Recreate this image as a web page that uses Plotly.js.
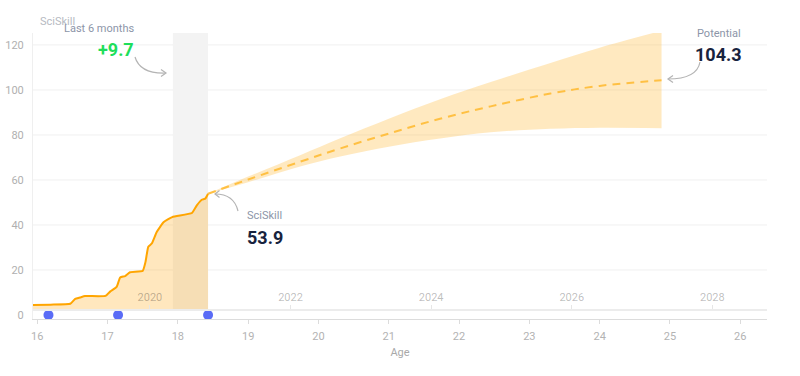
<!DOCTYPE html>
<html>
<head>
<meta charset="utf-8">
<script src="https://cdn.plot.ly/plotly-3.0.1.min.js"></script>
<style>html,body{margin:0;padding:0;background:#fff}#chart{width:800px;height:376px}</style>
</head>
<body>
<div id="chart"></div>
<script>
// ---- data ----
const histAge = [15.94, 16.19, 16.47, 16.54, 16.61, 16.68, 16.97, 17.04, 17.13, 17.18, 17.25, 17.32, 17.50, 17.54, 17.58, 17.63, 17.70, 17.80, 17.92, 18.20, 18.27, 18.34, 18.39, 18.43];
const histVal = [4.4, 4.6, 5.0, 7.2, 7.8, 8.4, 8.5, 10.5, 12.5, 16.7, 17.3, 19.0, 19.6, 23.6, 30.3, 31.8, 36.9, 41.3, 43.5, 45.3, 48.7, 51.2, 51.7, 53.9];

const projAge  = [18.43, 19.0, 19.74, 20.31, 21.0, 21.73, 22.45, 23.3, 24.0, 24.88];
const projMid  = [53.9, 60.2, 68.1, 74.0, 80.6, 87.2, 92.7, 98.4, 101.8, 104.3];
const projHigh = [53.9, 61.5, 71.0, 78.5, 87.2, 95.9, 103.5, 112.0, 118.8, 126.3];
const projLow  = [53.9, 59.0, 66.0, 70.4, 74.8, 78.4, 81.2, 82.7, 83.2, 83.0];

const dotAge = [16.16, 17.15, 18.43];
const dotVal = [0, 0, 0];

const lastSixMonths = [17.93, 18.43];
const gridVals = [20, 40, 60, 80, 100, 120];
const gainLabel = "+9.7";
const currentLabel = "SciSkill";
const potentialLabel = "Potential";
const periodLabel = "Last 6 months";
const yTitle = "SciSkill";
const xTitle = "Age";

// ---- settings ----
const baseline = 2.7;          // where the year axis line sits
const yearOffset = 2002.397;   // calendar year = age + offset
const ageRange = [15.94, 26.38];
const yRange = [-1.78, 125.3];

const FONT = 'Roboto, sans-serif';
const L = 33, R = 767, T = 33, B = 319;
const px = x => (x - L) / (R - L);
const py = y => (B - y) / (B - T);

const ORANGE = '#ffa500';

const traces = [
  { x: [histAge[0], histAge[histAge.length - 1]], y: [baseline, baseline], mode: 'lines',
    line: { width: 0, color: 'rgba(0,0,0,0)' }, hoverinfo: 'skip', showlegend: false },
  { x: histAge, y: histVal, mode: 'lines', fill: 'tonexty', fillcolor: 'rgba(255,176,40,0.3)',
    line: { color: ORANGE, width: 2, shape: 'spline', smoothing: 0.4 }, hoverinfo: 'skip', showlegend: false },
  { x: projAge, y: projLow, mode: 'lines', line: { width: 0, color: 'rgba(0,0,0,0)', shape: 'spline' },
    hoverinfo: 'skip', showlegend: false },
  { x: projAge, y: projHigh, mode: 'lines', fill: 'tonexty', fillcolor: 'rgba(255,186,60,0.32)',
    line: { width: 0, color: 'rgba(0,0,0,0)', shape: 'spline' }, hoverinfo: 'skip', showlegend: false },
  { x: projAge, y: projMid, mode: 'lines',
    line: { color: '#ffc043', width: 2, dash: '8px,6px', shape: 'spline' }, hoverinfo: 'skip', showlegend: false },
  { x: dotAge, y: dotVal, mode: 'markers', cliponaxis: false,
    marker: { color: '#5a6cf6', size: 10 }, hoverinfo: 'skip', showlegend: false },
  { x: ageRange.map(a => a + yearOffset), y: [baseline, baseline], xaxis: 'x2', mode: 'markers',
    marker: { opacity: 0 }, hoverinfo: 'skip', showlegend: false }
];

function curve(p0, c, p1) {
  return `M ${px(p0[0])},${py(p0[1])} Q ${px(c[0])},${py(c[1])} ${px(p1[0])},${py(p1[1])}`;
}
function poly(pts) {
  return 'M ' + pts.map(p => `${px(p[0])},${py(p[1])}`).join(' L ');
}
const arrowLine = { color: '#b4b4b4', width: 1.2 };
const shapes = [
  { type: 'rect', xref: 'x', yref: 'y', x0: lastSixMonths[0], x1: lastSixMonths[1], y0: baseline, y1: yRange[1],
    fillcolor: '#f3f3f3', line: { width: 0 }, layer: 'below' },
  ...gridVals.map(v => ({ type: 'line', xref: 'paper', yref: 'y', x0: 0, x1: 1, y0: v, y1: v,
    line: { color: '#f0f0f0', width: 1 }, layer: 'below' })),
  { type: 'path', xref: 'paper', yref: 'paper', path: curve([135, 57], [140, 74], [166, 73]), line: arrowLine },
  { type: 'path', xref: 'paper', yref: 'paper', path: poly([[161, 69.5], [166, 73], [161, 76.5]]), line: arrowLine },
  { type: 'path', xref: 'paper', yref: 'paper', path: curve([700, 62], [697, 79], [668, 79]), line: arrowLine },
  { type: 'path', xref: 'paper', yref: 'paper', path: poly([[673, 75.5], [668, 79], [673, 82.5]]), line: arrowLine },
  { type: 'path', xref: 'paper', yref: 'paper', path: curve([238, 211], [234, 194], [215, 194]), line: arrowLine },
  { type: 'path', xref: 'paper', yref: 'paper', path: poly([[219.5, 190.5], [215, 194], [219.5, 197.5]]), line: arrowLine }
];

function ann(text, x, y, xanchor, size, color, bold) {
  return { text: bold ? '<b>' + text + '</b>' : text, xref: 'paper', yref: 'paper', x: px(x), y: py(y),
    xanchor: xanchor, yanchor: 'middle', showarrow: false, borderpad: 0,
    font: { family: FONT, size: size, color: color } };
}
const lastVal = histVal[histVal.length - 1];
const lastMid = projMid[projMid.length - 1];
const annotations = [
  ann(yTitle, 39, 21, 'left', 11, '#b6bac2', false),
  ann(periodLabel, 135, 28.5, 'right', 11, '#8c95a8', false),
  ann(gainLabel, 135, 49, 'right', 18, '#1ede5a', true),
  ann(potentialLabel, 742, 33.5, 'right', 11, '#8c95a8', false),
  ann(lastMid.toFixed(1), 743, 54, 'right', 18, '#18233d', true),
  ann(currentLabel, 246, 215, 'left', 11, '#8c95a8', false),
  ann(lastVal.toFixed(1), 246, 237, 'left', 18, '#18233d', true)
];

const layout = {
  width: 800, height: 376,
  margin: { l: L, r: 800 - R, t: T, b: 376 - B },
  paper_bgcolor: '#fff', plot_bgcolor: '#fff',
  font: { family: FONT },
  showlegend: false,
  hovermode: false,
  xaxis: {
    range: ageRange, tick0: 16, dtick: 1, showgrid: false, zeroline: false,
    showline: true, linecolor: '#dcdcdc', linewidth: 1,
    ticks: 'outside', ticklen: 4, tickcolor: '#dcdcdc', ticklabelstandoff: 3,
    tickfont: { family: FONT, size: 11, color: '#b3b3b3' },
    title: { text: xTitle, font: { family: FONT, size: 11, color: '#a9a9a9' }, standoff: 6 }
  },
  xaxis2: {
    overlaying: 'x', anchor: 'free', position: py(309), side: 'top',
    range: ageRange.map(a => a + yearOffset), tick0: 2020, dtick: 2,
    showgrid: false, zeroline: false, showline: true, linecolor: '#ececec', linewidth: 1.5,
    ticks: 'outside', ticklen: 4, tickcolor: '#e6e6e6',
    tickfont: { family: FONT, size: 11, color: 'rgba(0,0,0,0.27)' }
  },
  yaxis: {
    range: yRange, tick0: 0, dtick: 20, showgrid: false, zeroline: false,
    showline: true, linecolor: '#efefef', ticks: '', ticklabelstandoff: 6,
    tickfont: { family: FONT, size: 11, color: '#b0b0b0' }
  },
  shapes: shapes,
  annotations: annotations
};

Plotly.newPlot('chart', traces, layout, { displayModeBar: false, staticPlot: true });
</script>
</body>
</html>
